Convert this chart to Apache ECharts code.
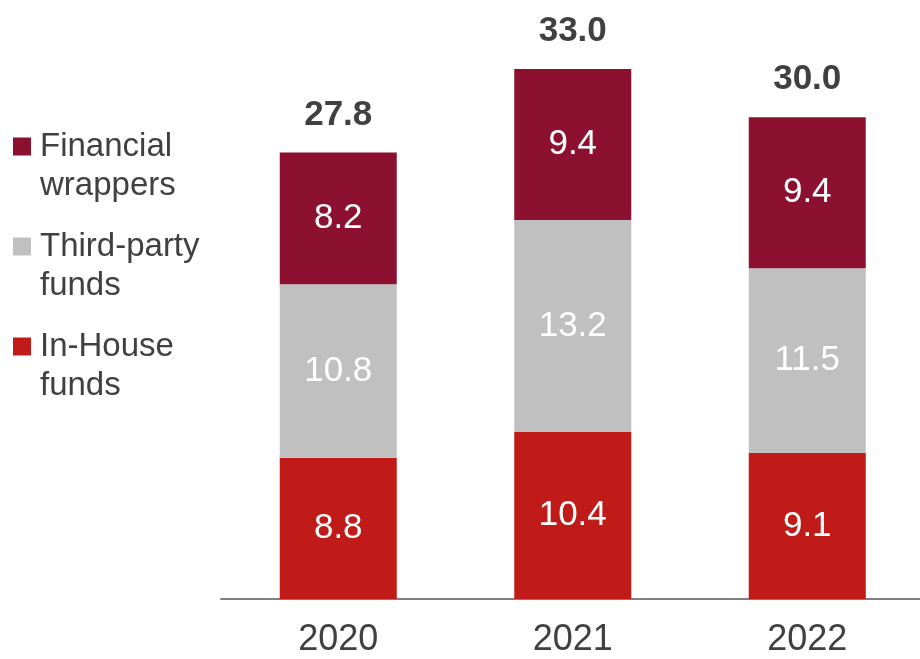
<!DOCTYPE html>
<html>
<head>
<meta charset="utf-8">
<style>
  html, body { margin: 0; padding: 0; background: #ffffff; overflow: hidden; }
  /* the plot runs a few pixels past the right edge of the window */
  #chart { width: 926px; height: 659px; }
</style>
<script src="https://cdn.jsdelivr.net/npm/echarts@6/dist/echarts.min.js"></script>
</head>
<body>
<div id="chart"></div>
<script>
// Years on the category axis
const years = ['2020', '2021', '2022'];

// Stacked components (bottom to top)
const inHouseFunds = [8.8, 10.4, 9.1];
const thirdPartyFunds = [10.8, 13.2, 11.5];
const financialWrappers = [8.2, 9.4, 9.4];

// Totals printed above each stack
const totals = [27.8, 33.0, 30.0];

const FONT = '"Liberation Sans", Arial, Helvetica, sans-serif';
const TEXT = '#404040';
const BAR_W = 117;

const insideLabel = {
  show: true,
  position: 'inside',
  color: '#ffffff',
  fontFamily: FONT,
  fontSize: 35,
  formatter: p => p.value.toFixed(1)
};

const chart = echarts.init(document.getElementById('chart'), null, { renderer: 'canvas' });

chart.setOption({
  animation: false,
  backgroundColor: '#ffffff',
  legend: {
    data: ['Financial\nwrappers', 'Third-party\nfunds', 'In-House\nfunds'],
    orient: 'vertical',
    left: 13,
    top: 88,
    padding: 0,
    itemWidth: 18,
    itemHeight: 18,
    itemGap: -17,
    icon: 'rect',
    selectedMode: false,
    // a leading empty line keeps the first line of each name level with its swatch
    formatter: name => '\n' + name,
    textStyle: {
      color: TEXT,
      fontFamily: FONT,
      fontSize: 33,
      lineHeight: 39,
      padding: [0, 0, 0, 4]
    }
  },
  grid: {
    left: 221,
    right: 1.5,
    top: 37,
    bottom: 60,
    containLabel: false
  },
  xAxis: {
    type: 'category',
    data: years,
    axisLine: { show: true, lineStyle: { color: '#7f7f7f', width: 2 } },
    axisTick: { show: false },
    axisLabel: {
      color: TEXT,
      fontFamily: FONT,
      fontSize: 36,
      margin: 23
    }
  },
  yAxis: {
    type: 'value',
    min: 0,
    max: 35,
    show: false,
    splitLine: { show: false }
  },
  series: [
    {
      name: 'In-House\nfunds',
      type: 'bar',
      stack: 'total',
      barWidth: BAR_W,
      data: inHouseFunds,
      itemStyle: { color: '#c01b18' },
      label: insideLabel
    },
    {
      name: 'Third-party\nfunds',
      type: 'bar',
      stack: 'total',
      barWidth: BAR_W,
      data: thirdPartyFunds,
      itemStyle: { color: '#c0c0c0' },
      label: insideLabel
    },
    {
      name: 'Financial\nwrappers',
      type: 'bar',
      stack: 'total',
      barWidth: BAR_W,
      data: financialWrappers,
      itemStyle: { color: '#8c1030' },
      label: insideLabel
    },
    {
      name: 'Total',
      type: 'bar',
      barWidth: BAR_W,
      barGap: '-100%',
      data: totals,
      z: 1,
      itemStyle: { color: 'rgba(0,0,0,0)' },
      label: {
        show: true,
        position: 'top',
        distance: 20,
        color: TEXT,
        fontFamily: FONT,
        fontSize: 35,
        fontWeight: 'bold',
        formatter: p => p.value.toFixed(1)
      }
    }
  ]
});
</script>
</body>
</html>
